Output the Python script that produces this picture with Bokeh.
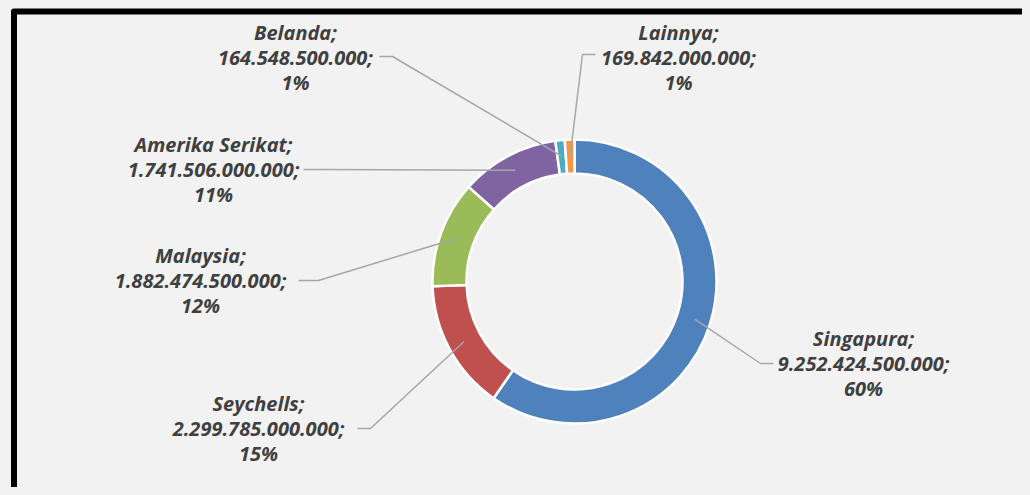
import numpy as np
from bokeh.plotting import figure
from bokeh.models import Range1d, ColumnDataSource
from bokeh.embed import file_html
from bokeh.resources import INLINE
from bokeh.core.properties import value

# ---- data ----
countries = ["Singapura", "Seychells", "Malaysia", "Amerika Serikat", "Belanda", "Lainnya"]
amounts = [9252424500000, 2299785000000, 1882474500000, 1741506000000, 164548500000, 169842000000]
colors = ["#4f81bd", "#c0504d", "#9bbb59", "#8064a2", "#4bacc6", "#f79646"]

# ---- layout (image pixel coordinates) ----
W, H = 1022, 487
cx_img, cy_img = 574, 281
r_out, r_in, r_lead = 142, 108, 126
label_x = [863, 258, 200, 213, 295, 678]
label_y = [363, 428, 280, 169, 57, 57]
elbow_x = [760, 370, 318, 320, 392, 582]
elbow_y = [363, 428, 280, 169, 56, 54]
end_x = [773, 357, 298, 303, 379, 595]
end_y = [363, 428, 280, 169, 56, 54]

def dy(y):
    return H - y

total = float(sum(amounts))
frac = np.array(amounts) / total
cum = np.concatenate([[0], np.cumsum(frac)])
start = np.pi / 2 - 2 * np.pi * cum[:-1]
end = np.pi / 2 - 2 * np.pi * cum[1:]
mid = (start + end) / 2

cx, cy = cx_img, dy(cy_img)

src = ColumnDataSource(dict(start=start, end=end, color=colors))

p = figure(width=W, height=H, output_backend="svg", toolbar_location=None,
           x_range=Range1d(0, W), y_range=Range1d(0, H),
           min_border=0, outline_line_color=None,
           background_fill_color="#f2f2f2", border_fill_color="#f2f2f2")
p.axis.visible = False
p.grid.visible = False

# frame border
p.quad(left=[13.5], right=[1045], top=[dy(11)], bottom=[-20],
       fill_color=None, line_color="black", line_width=6, line_join="round")

p.annular_wedge(x=cx, y=cy, inner_radius=r_in, outer_radius=r_out,
                start_angle="start", end_angle="end", direction="clock",
                fill_color="color", line_color="white", line_width=2.5, source=src)

# leader lines
xs, ys = [], []
for i in range(len(countries)):
    sx = cx + r_lead * np.cos(mid[i])
    sy = cy + r_lead * np.sin(mid[i])
    xs.append([sx, elbow_x[i], end_x[i]])
    ys.append([sy, dy(elbow_y[i]), dy(end_y[i])])
p.multi_line(xs=xs, ys=ys, line_color="#a6a6a6", line_width=1.5)

# labels
l1 = [c + ";" for c in countries]
l2 = [f"{a:,}".replace(",", ".") + ";" for a in amounts]
l3 = [f"{round(f * 100)}%" for f in frac]
lsrc = ColumnDataSource(dict(x=label_x, y=[dy(v) for v in label_y], l1=l1, l2=l2, l3=l3))
for col, off in (("l1", -25), ("l2", 0), ("l3", 25)):
    p.text(x="x", y="y", text=col, y_offset=off, source=lsrc,
           text_font=value("Open Sans"), text_font_style="bold italic",
           text_font_size="20px", text_color="#404040",
           text_align="center", text_baseline="middle")

html = file_html(p, INLINE)
html = html.replace("</head>", "<style>html, body { background: #f2f2f2; }</style>\n</head>", 1)
open("out.html", "w").write(html)
